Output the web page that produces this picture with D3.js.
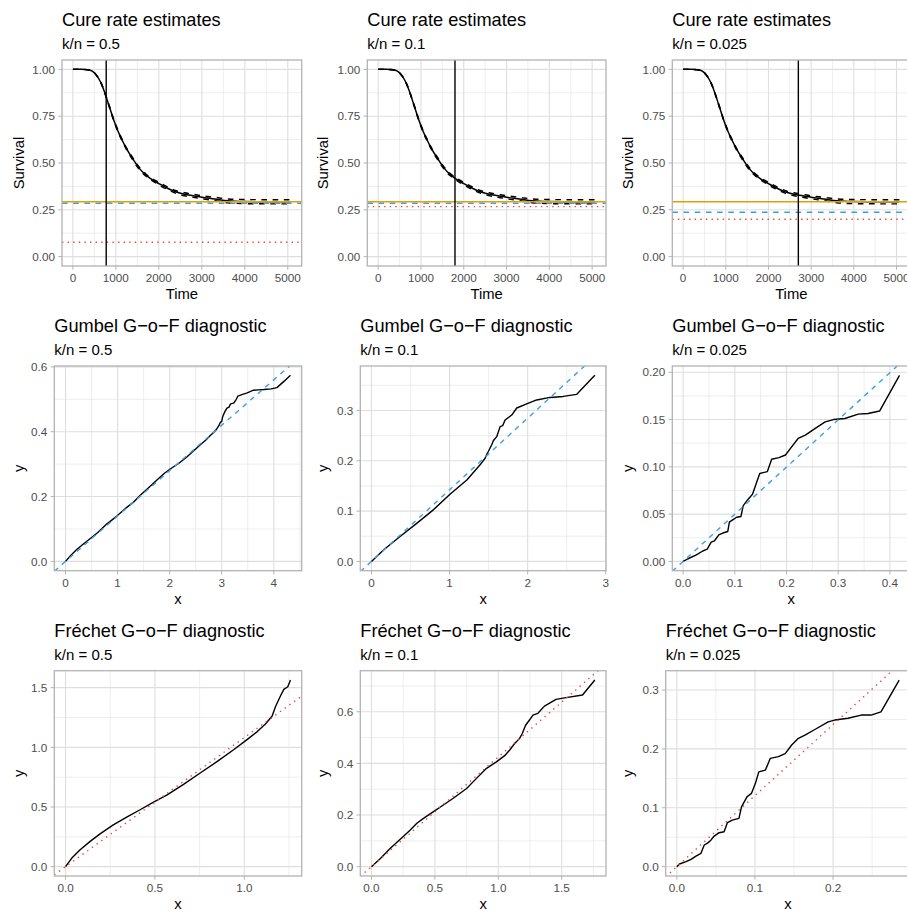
<!DOCTYPE html>
<html><head><meta charset="utf-8">
<script src="https://cdn.jsdelivr.net/npm/d3@7"></script>
<style>body{margin:0;background:#fff;} svg{display:block;}</style>
</head><body>
<script>
// ---------------- DATA ----------------
const knLabels = ["k/n = 0.5", "k/n = 0.1", "k/n = 0.025"];

// survival curve (same in the three top panels)
const survTime  = [0, 200, 350, 450, 550, 650, 750, 850, 950, 1050, 1150, 1250, 1400, 1550, 1700, 1850, 2000, 2200, 2400, 2600, 2800, 3000, 3300, 3600, 4000, 4500, 5070];
const survProb  = [1.0, 1.0, 0.998, 0.99, 0.968, 0.93, 0.87, 0.80, 0.73, 0.67, 0.62, 0.575, 0.52, 0.47, 0.435, 0.41, 0.39, 0.365, 0.345, 0.333, 0.325, 0.317, 0.308, 0.298, 0.294, 0.293, 0.293];
const survLower = [1.0, 1.0, 0.998, 0.99, 0.967, 0.928, 0.867, 0.796, 0.726, 0.665, 0.615, 0.570, 0.514, 0.464, 0.429, 0.404, 0.383, 0.358, 0.338, 0.325, 0.317, 0.309, 0.299, 0.288, 0.283, 0.282, 0.282];
const survUpper = [1.0, 1.0, 0.998, 0.99, 0.969, 0.932, 0.873, 0.804, 0.734, 0.675, 0.625, 0.580, 0.526, 0.476, 0.441, 0.416, 0.397, 0.372, 0.352, 0.341, 0.333, 0.325, 0.317, 0.308, 0.305, 0.304, 0.304];

const cureOrange = [0.293, 0.293, 0.293];   // solid orange
const cureBlue   = [0.285, 0.285, 0.237];   // dashed blue
const cureRed    = [0.077, 0.267, 0.200];   // dotted red
const thresholdTime = [775, 1795, 2700];    // vertical line

const timeTicks = [0, 1000, 2000, 3000, 4000, 5000];
const timeTickLabels = ["0", "1000", "2000", "3000", "4000", "5000"];
const survTicks = [0, 0.25, 0.5, 0.75, 1];
const survTickLabels = ["0.00", "0.25", "0.50", "0.75", "1.00"];

// Gumbel G-o-F diagnostic
const gumbelX1 = [0, 0.1, 0.21, 0.33, 0.47, 0.62, 0.79, 0.98, 1.17, 1.3, 1.43, 1.6, 1.75, 1.9, 2.01, 2.17, 2.33, 2.45, 2.59, 2.7, 2.78, 2.86, 2.91, 2.95, 2.97, 3.0, 3.02, 3.06, 3.1, 3.14, 3.17, 3.23, 3.28, 3.31, 3.4, 3.49, 3.61, 3.7, 3.81, 3.95, 4.06, 4.2, 4.32];
const gumbelY1 = [0, 0.018, 0.036, 0.052, 0.070, 0.089, 0.115, 0.139, 0.166, 0.182, 0.203, 0.228, 0.250, 0.272, 0.285, 0.302, 0.322, 0.340, 0.360, 0.375, 0.388, 0.400, 0.410, 0.420, 0.428, 0.432, 0.447, 0.462, 0.473, 0.476, 0.486, 0.488, 0.500, 0.510, 0.515, 0.520, 0.528, 0.529, 0.530, 0.532, 0.536, 0.556, 0.574];
const gumbelX2 = [0, 0.157, 0.37, 0.583, 0.796, 1.009, 1.221, 1.391, 1.455, 1.48, 1.498, 1.54, 1.56, 1.604, 1.647, 1.68, 1.711, 1.796, 1.86, 1.987, 2.115, 2.285, 2.455, 2.626, 2.86];
const gumbelY2 = [0, 0.023, 0.050, 0.076, 0.103, 0.134, 0.162, 0.192, 0.205, 0.214, 0.219, 0.232, 0.240, 0.248, 0.268, 0.270, 0.281, 0.291, 0.305, 0.313, 0.321, 0.326, 0.328, 0.332, 0.370];
const gumbelX3 = [0, 0.0096, 0.0256, 0.038, 0.0466, 0.0543, 0.0607, 0.069, 0.0767, 0.0863, 0.0895, 0.0958, 0.1035, 0.1118, 0.1163, 0.1246, 0.1342, 0.1406, 0.1482, 0.163, 0.1712, 0.1853, 0.198, 0.2077, 0.2224, 0.2364, 0.2556, 0.2748, 0.2907, 0.313, 0.3387, 0.3578, 0.380, 0.4185];
const gumbelY3 = [0, 0.0028, 0.007, 0.011, 0.013, 0.0204, 0.0218, 0.028, 0.030, 0.0316, 0.0415, 0.0439, 0.0467, 0.0475, 0.059, 0.065, 0.071, 0.081, 0.093, 0.095, 0.108, 0.1097, 0.1125, 0.1195, 0.130, 0.1336, 0.1406, 0.1476, 0.150, 0.1511, 0.1557, 0.1564, 0.159, 0.1968];
const gumbelSlope = [0.140, 0.1424, 0.499];

const gumbelXTicks = [[0, 1, 2, 3, 4], [0, 1, 2, 3], [0, 0.1, 0.2, 0.3, 0.4]];
const gumbelXTickLabels = [["0", "1", "2", "3", "4"], ["0", "1", "2", "3"], ["0.0", "0.1", "0.2", "0.3", "0.4"]];
const gumbelYTicks = [[0, 0.2, 0.4, 0.6], [0, 0.1, 0.2, 0.3], [0, 0.05, 0.1, 0.15, 0.2]];
const gumbelYTickLabels = [["0.0", "0.2", "0.4", "0.6"], ["0.0", "0.1", "0.2", "0.3"], ["0.00", "0.05", "0.10", "0.15", "0.20"]];

// Fréchet G-o-F diagnostic
const frechetX1 = [0, 0.034, 0.080, 0.136, 0.193, 0.267, 0.342, 0.417, 0.492, 0.566, 0.660, 0.753, 0.847, 0.940, 1.015, 1.071, 1.118, 1.155, 1.174, 1.202, 1.221, 1.243, 1.258];
const frechetY1 = [0, 0.070, 0.140, 0.210, 0.275, 0.350, 0.415, 0.477, 0.541, 0.600, 0.690, 0.785, 0.880, 0.980, 1.065, 1.130, 1.195, 1.260, 1.340, 1.430, 1.486, 1.508, 1.564];
const frechetX2 = [0, 0.0705, 0.149, 0.227, 0.306, 0.358, 0.410, 0.489, 0.567, 0.645, 0.750, 0.828, 0.907, 0.985, 1.050, 1.090, 1.129, 1.168, 1.189, 1.215, 1.246, 1.273, 1.312, 1.364, 1.455, 1.534, 1.664, 1.761];
const frechetY2 = [0, 0.032, 0.071, 0.106, 0.142, 0.168, 0.187, 0.213, 0.239, 0.265, 0.303, 0.342, 0.381, 0.406, 0.430, 0.452, 0.477, 0.497, 0.516, 0.548, 0.568, 0.587, 0.594, 0.622, 0.648, 0.655, 0.665, 0.723];
const frechetX3 = [0, 0.0034, 0.0118, 0.0182, 0.0245, 0.0309, 0.0351, 0.0393, 0.0436, 0.0478, 0.0541, 0.0605, 0.0647, 0.071, 0.0795, 0.0829, 0.090, 0.0956, 0.1006, 0.1049, 0.1133, 0.1197, 0.130, 0.1387, 0.147, 0.1556, 0.164, 0.1767, 0.1937, 0.2021, 0.219, 0.236, 0.2486, 0.2613, 0.2846];
const frechetY3 = [0, 0.0045, 0.0085, 0.0125, 0.018, 0.0226, 0.0368, 0.040, 0.045, 0.052, 0.0577, 0.0594, 0.0747, 0.079, 0.082, 0.102, 0.119, 0.1245, 0.1415, 0.161, 0.164, 0.184, 0.187, 0.192, 0.2066, 0.218, 0.2235, 0.233, 0.246, 0.249, 0.252, 0.2575, 0.2575, 0.263, 0.317];
const frechetSlope = [1.082, 0.425, 1.207];

const frechetXTicks = [[0, 0.5, 1.0], [0, 0.5, 1.0, 1.5], [0, 0.1, 0.2]];
const frechetXTickLabels = [["0.0", "0.5", "1.0"], ["0.0", "0.5", "1.0", "1.5"], ["0.0", "0.1", "0.2"]];
const frechetYTicks = [[0, 0.5, 1.0, 1.5], [0, 0.2, 0.4, 0.6], [0, 0.1, 0.2, 0.3]];
const frechetYTickLabels = [["0.0", "0.5", "1.0", "1.5"], ["0.0", "0.2", "0.4", "0.6"], ["0.0", "0.1", "0.2", "0.3"]];

// ---------------- LAYOUT ----------------
const W = 907, H = 913;
const FONT = "'Liberation Sans', Arial, Helvetica, sans-serif";
const cellLefts = [0, 304.3, 608.7];
const panelRights = [301.7, 606, 910.3];
const rowTops = [60, 366, 670.7];
const rowBottoms = [266, 570.7, 876];
const panelLefts = [[62, 367.3, 672.3], [54.3, 360.3, 672.3], [54.3, 360.3, 665.7]];

const ORANGE = "#E69F00", BLUE = "#3A9FE0", RED = "#E8473B";

const svg = d3.select("body").append("svg").attr("width", W).attr("height", H)
  .style("background", "#fff");
svg.append("rect").attr("width", W).attr("height", H).attr("fill", "#fff");

function expand(ext) { const d = (ext[1] - ext[0]) * 0.05; return [ext[0] - d, ext[1] + d]; }
function minors(ticks, dom) {
  const step = ticks[1] - ticks[0], out = [];
  for (let i = -1; i < ticks.length; i++) {
    const v = ticks[0] + (i + 0.5) * step;
    if (v >= dom[0] && v <= dom[1]) out.push(v);
  }
  return out;
}
let clipId = 0;
function panel(r, c, o) {
  const left = panelLefts[r][c], right = panelRights[c], top = rowTops[r], bottom = rowBottoms[r];
  const x = d3.scaleLinear().domain(o.xDomain).range([left, right]);
  const y = d3.scaleLinear().domain(o.yDomain).range([bottom, top]);
  const g = svg.append("g");
  // titles
  g.append("text").attr("x", left).attr("y", top - 34).attr("font-family", FONT)
    .attr("font-size", 18.2).attr("fill", "#000").text(o.title);
  g.append("text").attr("x", left).attr("y", top - 11).attr("font-family", FONT)
    .attr("font-size", 15).attr("fill", "#000").text(o.subtitle);
  // grid
  const grid = g.append("g");
  minors(o.xTicks, o.xDomain).forEach(v => grid.append("line").attr("x1", x(v)).attr("x2", x(v))
    .attr("y1", top).attr("y2", bottom).attr("stroke", "#e3e3e3").attr("stroke-width", 0.6));
  minors(o.yTicks, o.yDomain).forEach(v => grid.append("line").attr("y1", y(v)).attr("y2", y(v))
    .attr("x1", left).attr("x2", right).attr("stroke", "#e3e3e3").attr("stroke-width", 0.6));
  o.xTicks.forEach(v => grid.append("line").attr("x1", x(v)).attr("x2", x(v))
    .attr("y1", top).attr("y2", bottom).attr("stroke", "#dedede").attr("stroke-width", 1.1));
  o.yTicks.forEach(v => grid.append("line").attr("y1", y(v)).attr("y2", y(v))
    .attr("x1", left).attr("x2", right).attr("stroke", "#dedede").attr("stroke-width", 1.1));
  // clip group
  const id = "clip" + (clipId++);
  svg.append("clipPath").attr("id", id).append("rect")
    .attr("x", left).attr("y", top).attr("width", right - left).attr("height", bottom - top);
  const inner = g.append("g").attr("clip-path", `url(#${id})`);
  // axes
  const ax = g.append("g");
  o.xTicks.forEach((v, i) => {
    ax.append("line").attr("x1", x(v)).attr("x2", x(v)).attr("y1", bottom).attr("y2", bottom + 3.7)
      .attr("stroke", "#b3b3b3").attr("stroke-width", 1);
    ax.append("text").attr("x", x(v)).attr("y", bottom + 16).attr("text-anchor", "middle")
      .attr("font-family", FONT).attr("font-size", 11.7).attr("fill", "#4d4d4d").text(o.xLabels[i]);
  });
  o.yTicks.forEach((v, i) => {
    ax.append("line").attr("x1", left - 3.7).attr("x2", left).attr("y1", y(v)).attr("y2", y(v))
      .attr("stroke", "#b3b3b3").attr("stroke-width", 1);
    ax.append("text").attr("x", left - 7).attr("y", y(v)).attr("dy", "0.36em").attr("text-anchor", "end")
      .attr("font-family", FONT).attr("font-size", 11.7).attr("fill", "#4d4d4d").text(o.yLabels[i]);
  });
  ax.append("text").attr("x", (left + right) / 2).attr("y", bottom + 33).attr("text-anchor", "middle")
    .attr("font-family", FONT).attr("font-size", 14.8).attr("fill", "#000").text(o.xTitle);
  const yc = (top + bottom) / 2, xt = cellLefts[c] + 23.8;
  ax.append("text").attr("transform", `translate(${xt},${yc}) rotate(-90)`).attr("text-anchor", "middle")
    .attr("font-family", FONT).attr("font-size", 14.8).attr("fill", "#000").text(o.yTitle);
  const border = () => g.append("rect").attr("x", left).attr("y", top).attr("width", right - left)
    .attr("height", bottom - top).attr("fill", "none").attr("stroke", "#b3b3b3").attr("stroke-width", 1.3);
  return { x, y, inner, border };
}

// ---------- Row 1: cure rate estimates ----------
for (let c = 0; c < 3; c++) {
  const xDom = expand([0, d3.max(survTime)]);
  const yDom = expand([0, 1]);
  const p = panel(0, c, {
    xDomain: xDom, yDomain: yDom, xTicks: timeTicks, xLabels: timeTickLabels,
    yTicks: survTicks, yLabels: survTickLabels, title: "Cure rate estimates",
    subtitle: knLabels[c], xTitle: "Time", yTitle: "Survival"
  });
  const line = d3.line().curve(d3.curveMonotoneX);
  const pts = arr => survTime.map((t, i) => [p.x(t), p.y(arr[i])]);
  p.inner.append("path").attr("d", line(pts(survProb))).attr("fill", "none")
    .attr("stroke", "#000").attr("stroke-width", 1.5);
  [survLower, survUpper].forEach(arr => p.inner.append("path").attr("d", line(pts(arr))).attr("fill", "none")
    .attr("stroke", "#000").attr("stroke-width", 1.4).attr("stroke-dasharray", "5.6,5.6"));
  const hline = (v, col, dash, w) => p.inner.append("line").attr("x1", p.x(xDom[0])).attr("x2", p.x(xDom[1]))
    .attr("y1", p.y(v)).attr("y2", p.y(v)).attr("stroke", col).attr("stroke-width", w)
    .attr("stroke-dasharray", dash);
  hline(cureRed[c], RED, "1.4,4.2", 1.4);
  hline(cureBlue[c], BLUE, "5.6,5.6", 1.5);
  hline(cureOrange[c], ORANGE, null, 1.6);
  p.inner.append("line").attr("x1", p.x(thresholdTime[c])).attr("x2", p.x(thresholdTime[c]))
    .attr("y1", p.y(yDom[0])).attr("y2", p.y(yDom[1])).attr("stroke", "#000").attr("stroke-width", 1.4);
  p.border();
}

// ---------- Rows 2 & 3: G-o-F diagnostics ----------
function gof(r, c, xs, ys, slope, xt, xl, yt, yl, title, col, dash) {
  const xDom = expand(d3.extent(xs)), yDom = expand(d3.extent(ys));
  const p = panel(r, c, {
    xDomain: xDom, yDomain: yDom, xTicks: xt, xLabels: xl, yTicks: yt, yLabels: yl,
    title: title, subtitle: knLabels[c], xTitle: "x", yTitle: "y"
  });
  p.inner.append("path").attr("d", d3.line()(xs.map((v, i) => [p.x(v), p.y(ys[i])])))
    .attr("fill", "none").attr("stroke", "#000").attr("stroke-width", 1.4).attr("stroke-linejoin", "round");
  p.inner.append("line").attr("x1", p.x(xDom[0])).attr("y1", p.y(slope * xDom[0]))
    .attr("x2", p.x(xDom[1])).attr("y2", p.y(slope * xDom[1]))
    .attr("stroke", col).attr("stroke-width", 1.4).attr("stroke-dasharray", dash);
  p.border();
}
const gX = [gumbelX1, gumbelX2, gumbelX3], gY = [gumbelY1, gumbelY2, gumbelY3];
const fX = [frechetX1, frechetX2, frechetX3], fY = [frechetY1, frechetY2, frechetY3];
for (let c = 0; c < 3; c++) {
  gof(1, c, gX[c], gY[c], gumbelSlope[c], gumbelXTicks[c], gumbelXTickLabels[c],
    gumbelYTicks[c], gumbelYTickLabels[c], "Gumbel G\u2212o\u2212F diagnostic", BLUE, "5,5");
  gof(2, c, fX[c], fY[c], frechetSlope[c], frechetXTicks[c], frechetXTickLabels[c],
    frechetYTicks[c], frechetYTickLabels[c], "Fréchet G\u2212o\u2212F diagnostic", RED, "1.4,4.4");
}
</script></body></html>
